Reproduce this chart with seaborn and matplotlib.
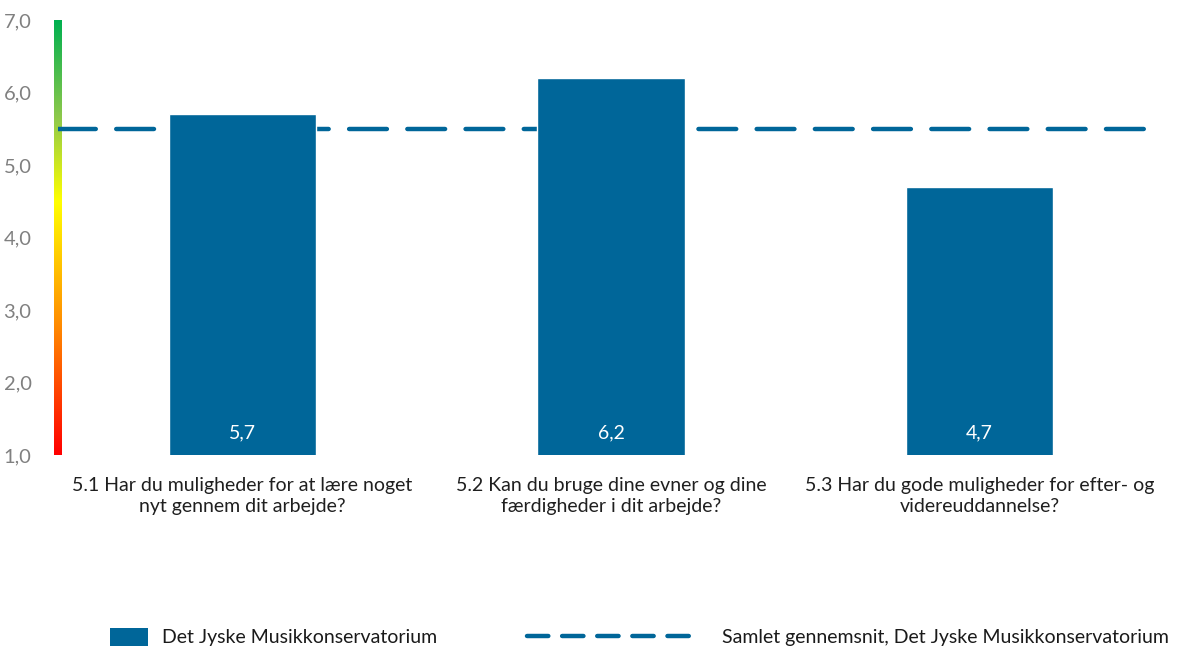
import numpy as np
import pandas as pd
import matplotlib
matplotlib.use("Agg")
import matplotlib.pyplot as plt
from matplotlib.colors import LinearSegmentedColormap
from matplotlib.patches import Patch
from matplotlib.lines import Line2D
import seaborn as sns

# --- data ---
categories = [
    "5.1 Har du muligheder for at lære noget\nnyt gennem dit arbejde?",
    "5.2 Kan du bruge dine evner og dine\nfærdigheder i dit arbejde?",
    "5.3 Har du gode muligheder for efter- og\nvidereuddannelse?",
]
values = [5.7, 6.2, 4.7]
overall_mean = 5.5
y_ticks = [1.0, 2.0, 3.0, 4.0, 5.0, 6.0, 7.0]
bar_label = "Det Jyske Musikkonservatorium"
line_label = "Samlet gennemsnit, Det Jyske Musikkonservatorium"

BLUE = "#006699"

sns.set_theme(style="white")
plt.rcParams["font.family"] = ["Lato", "DejaVu Sans"]

fig = plt.figure(figsize=(11.77, 6.51), dpi=100)
ax = fig.add_axes([58 / 1177, 1 - 455 / 651, (1164 - 58) / 1177, 435 / 651])

df = pd.DataFrame({"Spørgsmål": categories, "Score": values})
sns.barplot(data=df, x="Spørgsmål", y="Score", color=BLUE, saturation=1,
            width=0.4, ax=ax, zorder=3)

# overall average as a dashed reference line behind the bars
ax.axhline(overall_mean, color=BLUE, lw=3.2, dashes=(8.5, 4.6),
           dash_capstyle="round", zorder=2)

# value labels inside the bars, near their base
for i, v in enumerate(values):
    ax.text(i, 1.31, f"{v:.1f}".replace(".", ","), ha="center", va="center",
            color="white", fontsize=14, zorder=4)

ax.set_ylim(1, 7)
ax.set_xlim(-0.5, 2.5)
ax.set_yticks(y_ticks)
ax.set_yticklabels([f"{t:.1f}".replace(".", ",") for t in y_ticks])
ax.tick_params(axis="y", length=0, pad=19, labelsize=14.5, labelcolor="#808080")
ax.tick_params(axis="x", length=0, pad=16, labelsize=14, labelcolor="#1f1f1f")
for t in ax.get_xticklabels():
    t.set_linespacing(1.3)
ax.set_xlabel("")
ax.set_ylabel("")
for s in ax.spines.values():
    s.set_visible(False)

# red-yellow-green scale strip along the value axis
cmap = LinearSegmentedColormap.from_list(
    "scale", [(0.0, "#FF0000"), (0.30, "#FF8C00"), (0.583, "#FFFF00"),
              (0.78, "#8CC84B"), (1.0, "#00B050")])
gax = fig.add_axes([54 / 1177, 1 - 455 / 651, 8 / 1177, 435 / 651], zorder=1)
grad = np.linspace(1, 0, 256).reshape(-1, 1)
gax.imshow(grad, aspect="auto", cmap=cmap, extent=(0, 1, 0, 1))
gax.set_axis_off()
ax.set_zorder(2)
ax.patch.set_visible(False)

# legends
fs = 14
em = fs * 100 / 72
leg1 = fig.legend(handles=[Patch(facecolor=BLUE, edgecolor="none", label=bar_label)],
                  loc="center left", bbox_to_anchor=(110 / 1177, 1 - 637 / 651),
                  frameon=False, fontsize=fs, borderpad=0, borderaxespad=0,
                  handlelength=38 / em, handleheight=21 / em,
                  handletextpad=14 / em)
leg2 = fig.legend(handles=[Line2D([0], [0], color=BLUE, lw=3.2, dashes=(4.8, 3.1),
                                  dash_capstyle="round", label=line_label)],
                  loc="center left", bbox_to_anchor=(527 / 1177, 1 - 637 / 651),
                  frameon=False, fontsize=fs, borderpad=0, borderaxespad=0,
                  handlelength=166 / em, handletextpad=29 / em)
for leg in (leg1, leg2):
    for t in leg.get_texts():
        t.set_color("#1a1a1a")

fig.savefig("out.png", dpi=100)
